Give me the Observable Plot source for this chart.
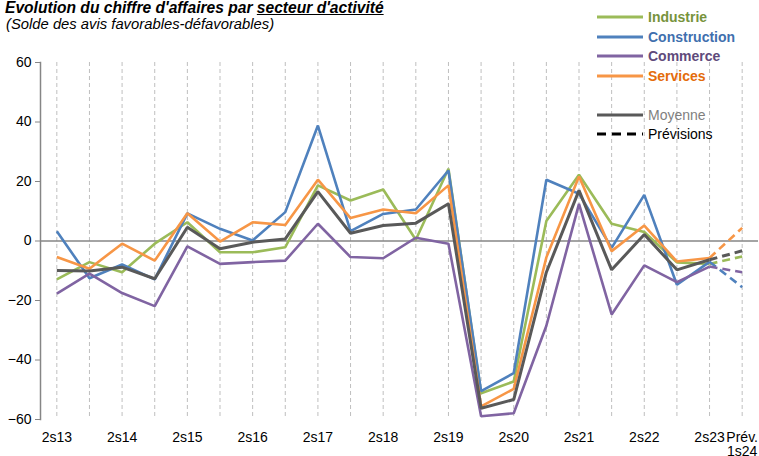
<!DOCTYPE html>
<html>
<head>
<meta charset="utf-8">
<script src="https://cdn.jsdelivr.net/npm/d3@7"></script>
<script src="https://cdn.jsdelivr.net/npm/@observablehq/plot@0.6"></script>
<style>
  body { margin: 0; background: #fff; font-family: "Liberation Sans", Arial, sans-serif; }
  #wrap { position: relative; width: 759px; height: 456px; overflow: hidden; }
  #title { position: absolute; left: 5px; top: -1px; font-size: 15.6px; font-weight: bold; font-style: italic; white-space: nowrap; color: #000; }
  #subtitle { position: absolute; left: 6px; top: 16px; font-size: 14.8px; font-style: italic; white-space: nowrap; color: #000; }
  #legend { position: absolute; left: 597px; top: 7px; }
  .item { position: absolute; left: 0; height: 20px; white-space: nowrap; font-size: 14px; line-height: 20px; }
  .item svg { position: absolute; left: 0; top: 0; }
  .item span { position: absolute; left: 51px; top: 0; }
</style>
</head>
<body>
<div id="wrap">
  <div id="chart"></div>
  <div id="title">Evolution du chiffre d'affaires par <u>secteur d'activité</u></div>
  <div id="subtitle">(Solde des avis favorables-défavorables)</div>
  <div id="legend"></div>
</div>
<script>
// Semesters (categories)
const semesters = ["2s13","1s14","2s14","1s15","2s15","1s16","2s16","1s17","2s17","1s18","2s18","1s19","2s19","1s20","2s20","1s21","2s21","1s22","2s22","1s23","2s23","1s24"];
const xTickLabels = ["2s13","2s14","2s15","2s16","2s17","2s18","2s19","2s20","2s21","2s22","2s23","1s24"];
const forecastLabel = "Prév.\n1s24";
const yTicks = [-60,-40,-20,0,20,40,60];

// Series values (last value = forecast 1s24)
const industrie    = [-12.9,-7.1,-10.5,-0.9,6.3,-3.8,-3.8,-2.1,18.7,13.6,17.3,0.4,24.3,-51.2,-47.2,6.7,22.3,5.8,3.0,-7.2,-7.7,-5.2];
const construction = [3.3,-12.5,-7.9,-12.9,9.3,4.1,0.2,9.7,38.8,3.3,9.1,10.6,23.7,-50.5,-44.4,20.6,15.9,-2.3,15.5,-14.7,-7.0,-15.5];
const commerce     = [-17.7,-11.0,-17.5,-21.9,-1.8,-7.7,-7.1,-6.6,5.8,-5.4,-5.8,1.1,-0.9,-58.9,-57.9,-28.5,12.5,-24.7,-8.2,-13.8,-8.6,-10.5];
const services     = [-5.4,-9.3,-0.9,-6.6,9.3,-0.2,6.3,5.4,20.6,7.7,10.6,9.3,18.7,-55.6,-49.7,-5.5,21.7,-3.4,5.2,-6.9,-5.7,4.4];
const moyenne      = [-9.9,-10.1,-8.8,-12.7,4.6,-2.6,-0.4,0.7,16.6,2.6,5.2,6.0,12.5,-56.2,-53.3,-10.5,17.0,-9.7,2.2,-9.7,-6.3,-3.3];

const seriesNames = ["Industrie","Construction","Commerce","Services","Moyenne"];
const seriesValues = [industrie, construction, commerce, services, moyenne];
const lineColors = ["#9BBB59","#4F81BD","#8064A2","#F79646","#595959"];
const textColors = ["#77933C","#3F6FAE","#604A7B","#E46C0A","#7F7F7F"];
const textWeights = ["bold","bold","bold","bold","normal"];
const lineWidths = [2.6,2.6,2.6,2.6,3];
const forecastStart = "2s23";

// Build long tables
const rows = [];
seriesNames.forEach((name, i) => {
  seriesValues[i].forEach((v, j) => rows.push({serie: name, sem: semesters[j], idx: j, value: v}));
});
const fIdx = semesters.indexOf(forecastStart);
const solid = rows.filter(d => d.idx <= fIdx);
const dashed = rows.filter(d => d.idx >= fIdx);

const marks = [
  Plot.ruleX(semesters, {stroke: "#BFBFBF", strokeDasharray: "4,3", strokeWidth: 1}),
  Plot.ruleY([0], {stroke: "#868686", strokeWidth: 1.5}),
  Plot.frame({anchor: "left", stroke: "#868686", strokeWidth: 1.5}),
  Plot.axisY({ticks: yTicks, tickSize: 5, tickPadding: 4, stroke: "#868686", fill: "#000", label: null, fontSize: 14}),
  Plot.axisX({ticks: xTickLabels, tickSize: 0, tickPadding: 13, fill: "#000", label: null, fontSize: 14,
    tickFormat: d => d === "1s24" ? forecastLabel : d})
];
seriesNames.forEach((name, i) => {
  marks.push(Plot.line(solid.filter(d => d.serie === name), {
    x: "sem", y: "value", stroke: lineColors[i], strokeWidth: lineWidths[i],
    strokeLinejoin: "miter", strokeLinecap: "butt"
  }));
  marks.push(Plot.line(dashed.filter(d => d.serie === name), {
    x: "sem", y: "value", stroke: lineColors[i], strokeWidth: lineWidths[i],
    strokeDasharray: "8,5", strokeLinecap: "butt"
  }));
});

const chart = Plot.plot({
  width: 759,
  height: 456,
  marginTop: 62,
  marginBottom: 37,
  marginLeft: 40,
  marginRight: 1,
  style: {fontFamily: "'Liberation Sans', Arial, sans-serif", fontSize: "14px", color: "#000", background: "#fff"},
  x: {type: "point", domain: semesters, padding: 0.5, round: false, axis: null},
  y: {domain: [-60, 60], axis: null},
  marks
});
document.getElementById("chart").appendChild(chart);

// Legend
const legend = document.getElementById("legend");
const legendTops = [0, 19.5, 39, 58.5, 97.5, 117];
const items = seriesNames.map((n, i) => ({label: n, color: lineColors[i], text: textColors[i], weight: textWeights[i], dash: null, w: 3}));
items.push({label: "Prévisions", color: "#000", text: "#000", weight: "normal", dash: "9,6", w: 3});
items.forEach((it, k) => {
  const div = document.createElement("div");
  div.className = "item";
  div.style.top = legendTops[k] + "px";
  div.innerHTML = `<svg width="48" height="20"><line x1="0" x2="46" y1="10" y2="10" stroke="${it.color}" stroke-width="${it.w}" ${it.dash ? `stroke-dasharray="${it.dash}"` : ""}/></svg><span style="color:${it.text};font-weight:${it.weight}">${it.label}</span>`;
  legend.appendChild(div);
});
</script>
</body>
</html>
